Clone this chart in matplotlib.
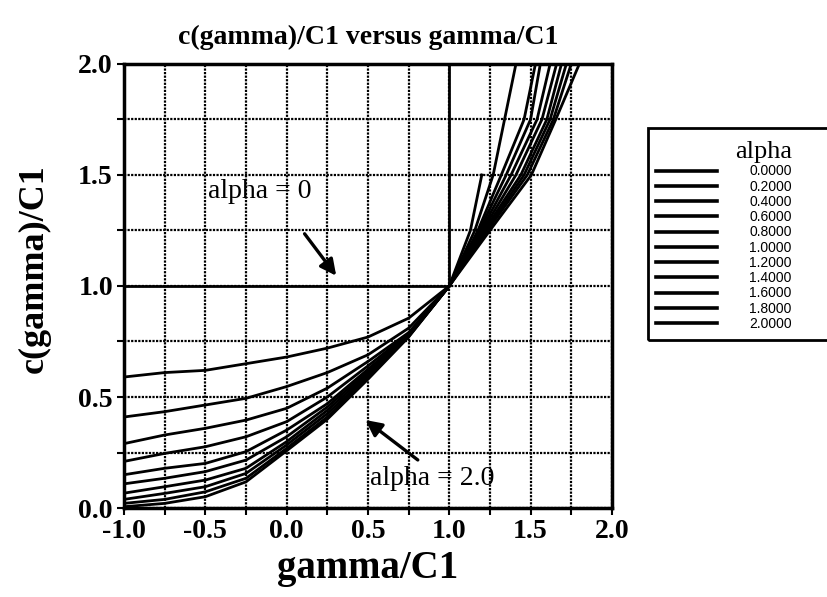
import numpy as np
import matplotlib
matplotlib.use('Agg')
import matplotlib.pyplot as plt
from matplotlib.patches import Rectangle

# alpha values in the legend
alphas = [0.0, 0.2, 0.4, 0.6, 0.8, 1.0, 1.2, 1.4, 1.6, 1.8, 2.0]

# gamma/C1 <= 1 : c(gamma)/C1 read at these gammas
gamma_left = [-1.0, -0.75, -0.5, -0.25, 0.0, 0.25, 0.5, 0.75, 1.0]
c_left = {
    0.0: [1.0, 1.0, 1.0, 1.0, 1.0, 1.0, 1.0, 1.0, 1.0],
    0.2: [0.59, 0.61, 0.62, 0.65, 0.68, 0.72, 0.77, 0.855, 1.0],
    0.4: [0.41, 0.434, 0.464, 0.494, 0.547, 0.61, 0.69, 0.81, 1.0],
    0.6: [0.29, 0.329, 0.359, 0.396, 0.449, 0.54, 0.66, 0.79, 1.0],
    0.8: [0.21, 0.246, 0.276, 0.321, 0.389, 0.50, 0.64, 0.785, 1.0],
    1.0: [0.15, 0.179, 0.201, 0.254, 0.351, 0.47, 0.625, 0.78, 1.0],
    1.2: [0.109, 0.134, 0.164, 0.216, 0.321, 0.455, 0.615, 0.778, 1.0],
    1.4: [0.067, 0.096, 0.126, 0.179, 0.299, 0.44, 0.605, 0.776, 1.0],
    1.6: [0.039, 0.066, 0.096, 0.156, 0.284, 0.425, 0.595, 0.774, 1.0],
    1.8: [0.021, 0.039, 0.073, 0.134, 0.269, 0.41, 0.588, 0.772, 1.0],
    2.0: [0.006, 0.021, 0.051, 0.118, 0.258, 0.40, 0.58, 0.77, 1.0],
}

# gamma/C1 >= 1 : gamma read where the curves cross these c levels
c_right = [1.0, 1.25, 1.5, 1.75, 2.0]
gamma_right = {
    0.0: [1.0, 1.0, 1.0, 1.0, 1.0],
    0.2: [1.0, 1.13, 1.2, np.nan, np.nan],
    0.4: [1.0, 1.157, 1.27, 1.34, 1.41],
    0.6: [1.0, 1.176, 1.32, 1.46, 1.53],
    0.8: [1.0, 1.185, 1.35, 1.50, 1.56],
    1.0: [1.0, 1.195, 1.38, 1.54, 1.62],
    1.2: [1.0, 1.205, 1.41, 1.57, 1.66],
    1.4: [1.0, 1.215, 1.44, 1.60, 1.69],
    1.6: [1.0, 1.225, 1.46, 1.62, 1.72],
    1.8: [1.0, 1.235, 1.48, 1.64, 1.75],
    2.0: [1.0, 1.25, 1.505, 1.655, 1.80],
}

serif = ['Liberation Serif', 'DejaVu Serif']
sans = ['Liberation Sans', 'DejaVu Sans']

fig = plt.figure(figsize=(8.28, 5.97), dpi=100)
ax = fig.add_axes([0.1498, 0.149, 0.5892, 0.744])

for a in alphas:
    gx = list(gamma_left) + list(gamma_right[a][1:])
    cy = list(c_left[a]) + list(c_right[1:])
    ax.plot(gx, cy, color='black', lw=2.0, solid_joinstyle='round',
            label='%.4f' % a)

ax.set_xlim(-1.0, 2.0)
ax.set_ylim(0.0, 2.0)
ax.set_xticks(np.arange(-1.0, 2.01, 0.5))
ax.set_yticks(np.arange(0.0, 2.01, 0.5))
ax.set_xticks(np.arange(-1.0, 2.01, 0.25), minor=True)
ax.set_yticks(np.arange(0.0, 2.01, 0.25), minor=True)
ax.set_xticklabels(['%.1f' % v for v in np.arange(-1.0, 2.01, 0.5)])
ax.set_yticklabels(['%.1f' % v for v in np.arange(0.0, 2.01, 0.5)])
ax.grid(True, which='both', color='black', lw=1.6, linestyle=(0, (1, 0.6)))
ax.set_axisbelow(True)
ax.tick_params(which='both', direction='out', length=5, width=1.5,
               colors='black', pad=3)
for lab in ax.get_xticklabels() + ax.get_yticklabels():
    lab.set_family(serif)
    lab.set_fontweight('bold')
    lab.set_fontsize(20)
for s in ax.spines.values():
    s.set_linewidth(2.5)

ax.set_title('c(gamma)/C1 versus gamma/C1', family=serif, fontweight='bold',
             fontsize=20, pad=14)
ax.set_xlabel('gamma/C1', family=serif, fontweight='bold', fontsize=28)
ax.xaxis.set_label_coords(0.5, -0.095)
ax.set_ylabel('c(gamma)/C1', family=serif, fontweight='bold', fontsize=26)
ax.yaxis.set_label_coords(-0.15, 0.54)

ax.annotate('', xy=(0.315, 1.036), xytext=(0.10, 1.245),
            arrowprops=dict(arrowstyle='-|>', color='black', lw=2.4,
                            mutation_scale=24))
ax.text(-0.484, 1.425, 'alpha = 0', family=serif, fontsize=20,
        ha='left', va='center')
ax.annotate('', xy=(0.471, 0.404), xytext=(0.82, 0.209),
            arrowprops=dict(arrowstyle='-|>', color='black', lw=2.4,
                            mutation_scale=24))
ax.text(0.51, 0.135, 'alpha = 2.0', family=serif, fontsize=20,
        ha='left', va='center')

# legend box runs off the right edge of the page
fig.patches.append(Rectangle((648 / 828, 1 - 340 / 597), 200 / 828, 212 / 597,
                             transform=fig.transFigure, fill=False,
                             edgecolor='black', lw=2.0))
leg = ax.legend(loc='upper left', bbox_to_anchor=(652 / 828, 1 - 137 / 597),
                bbox_transform=fig.transFigure, frameon=False,
                handlelength=4.4, handletextpad=2.3, labelspacing=0.09,
                borderpad=0.3, borderaxespad=0.0,
                prop={'family': sans, 'size': 10})
leg.set_title('alpha', prop={'family': serif, 'size': 19})
leg._legend_box.align = 'right'
for ln in leg.get_lines():
    ln.set_linewidth(2.6)

fig.savefig('out.png', dpi=100)
